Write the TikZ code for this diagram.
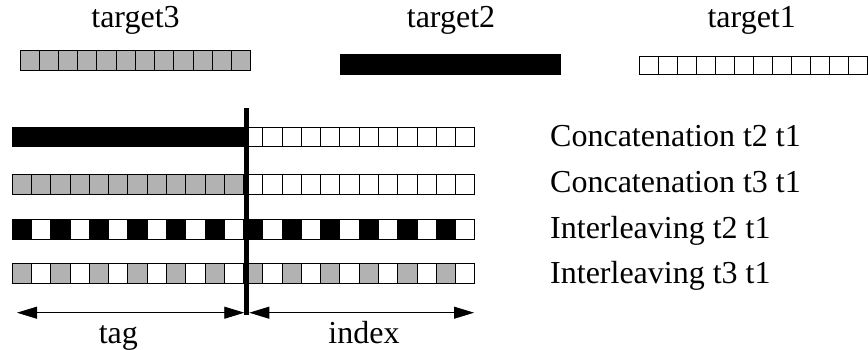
\documentclass[tikz,border=0pt]{standalone}
\usepackage{fontspec}
\setmainfont{Liberation Serif}
\usetikzlibrary{arrows.meta, positioning}

\begin{document}
\begin{tikzpicture}[
  x=1pt, y=-1pt,
  font=\fontsize{32}{36}\selectfont,
  cell/.style={draw=black, line width=0.9pt},
  txt/.style={anchor=base, inner sep=0pt},
  divider/.style={line width=5pt},
  dimarrow/.style={{Triangle[length=20pt,width=12pt]}-{Triangle[length=20pt,width=12pt]}, line width=0.8pt}
]
\useasboundingbox (0,0) rectangle (868,350);

\node[txt] (target3) at (135.5,28) {target3};
\node[txt] (target2) at (451,28) {target2};
\node[txt] (target1) at (751.7,28) {target1};

\foreach \i in {0,...,11} {
  \draw[cell, fill=black!30] ({20+19.22*\i},50.7) rectangle ++(19.22,19.3);
  \draw[cell, fill=black] ({340+18.4*\i},54.3) rectangle ++(18.4,20);
  \draw[cell, fill=white] ({639.3+19*\i},56) rectangle ++(19,18);
}

\foreach \ry/\ea/\oa/\eb/\ob in {127.3/black/black/white/white,
    174.8/black!30/black!30/white/white,
    219.8/black/white/black/white,
    263.8/black!30/white/black!30/white} {
  \foreach \i in {0,...,23} {
    \ifnum\i<12 \ifodd\i\def\cc{\oa}\else\def\cc{\ea}\fi
    \else \ifodd\i\def\cc{\ob}\else\def\cc{\eb}\fi\fi
    \draw[cell, fill=\cc] ({12.3+19.27*\i},\ry) rectangle ++(19.27,19.4);
  }
}

\node[txt, anchor=base west] (cat21) at (550,146.7) {Concatenation t2 t1};
\node[txt, anchor=base west] (cat31) at (550,192.7) {Concatenation t3 t1};
\node[txt, anchor=base west] (int21) at (550,238.3) {Interleaving t2 t1};
\node[txt, anchor=base west] (int31) at (550,283.3) {Interleaving t3 t1};

\coordinate (divtop) at (246.8,108.3);
\coordinate (divbot) at (246.8,315);
\draw[divider] (divtop) -- (divbot);

\coordinate (tagL) at (17,312.7);
\coordinate (tagR) at (244.3,312.7);
\coordinate (idxL) at (249.3,312.7);
\coordinate (idxR) at (474,312.7);
\draw[dimarrow] (tagL) -- (tagR);
\draw[dimarrow] (idxL) -- (idxR);

\node[txt] (tag) at (118.3,343) {tag};
\node[txt] (index) at (364,343) {index};
\end{tikzpicture}
\end{document}
